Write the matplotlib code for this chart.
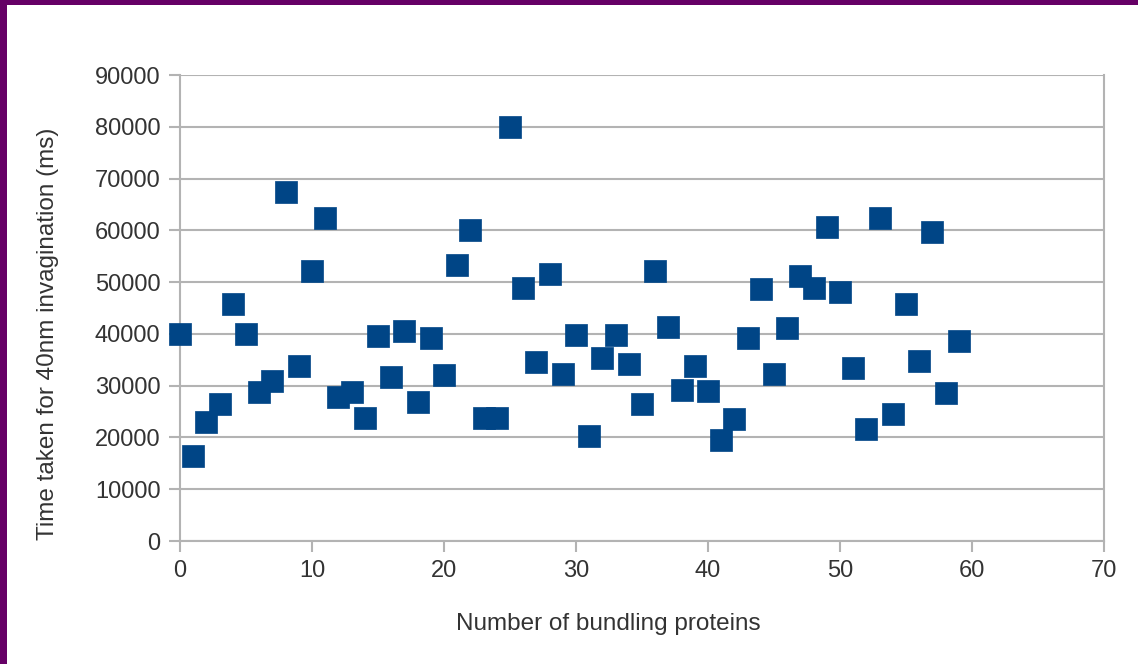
import matplotlib.pyplot as plt
from matplotlib.patches import Rectangle

plt.rcParams['font.family'] = ['Liberation Sans', 'DejaVu Sans']

proteins = list(range(60))
time_ms = [40000, 16400, 23000, 26500, 45800, 40000, 28800, 30900, 67400, 33800,
           52100, 62400, 27800, 28800, 23800, 39600, 31700, 40600, 26800, 39200,
           32100, 53300, 60100, 23800, 23800, 80000, 48900, 34600, 51600, 32300,
           39800, 20300, 35300, 39800, 34200, 26500, 52100, 41300, 29200, 33800,
           29000, 19500, 23600, 39200, 48700, 32300, 41100, 51200, 48900, 60600,
           48100, 33400, 21600, 62400, 24500, 45800, 34800, 59700, 28600, 38600]

W, H = 1138, 664
fig = plt.figure(figsize=(W / 100, H / 100), dpi=100)
fig.patch.set_facecolor('white')

# purple frame on top and left edges
fig.patches.append(Rectangle((0, 1 - 5 / H), 1, 5 / H, transform=fig.transFigure,
                             facecolor='#660066', edgecolor='none', zorder=0))
fig.patches.append(Rectangle((0, 0), 7 / W, 1, transform=fig.transFigure,
                             facecolor='#660066', edgecolor='none', zorder=0))

ax = fig.add_axes([180 / W, (H - 541) / H, (1104 - 180) / W, (541 - 75) / H])

grid_c = '#b3b3b3'
ax.scatter(proteins, time_ms, marker='s', s=230, color='#004586',
           edgecolors='#004586', linewidths=0.5, zorder=3, clip_on=False)

ax.set_xlim(0, 70)
ax.set_ylim(0, 90000)
ax.set_xticks(range(0, 71, 10))
ax.set_yticks(range(0, 90001, 10000))
ax.yaxis.grid(True, color=grid_c, linewidth=1.5)
ax.set_axisbelow(True)

for side in ['left', 'bottom', 'right']:
    ax.spines[side].set_color(grid_c)
    ax.spines[side].set_linewidth(1.5)
ax.spines['top'].set_visible(False)

ax.tick_params(axis='both', colors=grid_c, labelcolor='#333333',
               labelsize=17, length=8, width=1.5)
ax.tick_params(axis='y', pad=6)
ax.tick_params(axis='x', pad=6)

ax.set_xlabel('Number of bundling proteins', fontsize=17.5, color='#333333', va='center')
ax.set_ylabel('Time taken for 40nm invagination (ms)', fontsize=17.5, color='#333333', va='center')
ax.xaxis.set_label_coords(0.464, -0.178)
ax.yaxis.set_label_coords(-0.143, 0.444)

plt.savefig('out.png', dpi=100)
